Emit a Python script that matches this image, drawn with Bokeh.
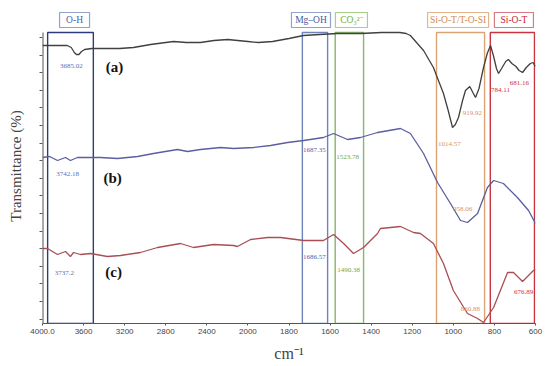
import numpy as np
from bokeh.plotting import figure
from bokeh.models import Range1d, FixedTicker, ColumnDataSource
from bokeh.embed import file_html
from bokeh.resources import INLINE

# ---------------- data (wavenumber cm-1, transmittance in arbitrary units) -------------
wn_a = [4000, 3900, 3760, 3720, 3690, 3670, 3645, 3620, 3590, 3520, 3400, 3250, 3114,
        2948, 2800, 2724, 2600, 2462, 2330, 2198, 2100, 2000, 1950, 1880, 1800, 1730,
        1650, 1564, 1450, 1350, 1260, 1230, 1209, 1175, 1145, 1097, 1048, 1025, 1004,
        990, 975, 955, 941, 920, 905, 892, 875, 853, 835, 819, 805, 790, 780, 765, 745,
        732, 715, 695, 680, 663, 645, 625, 612, 600]
t_a = [278, 278, 278, 276, 271, 269, 269, 272, 274, 275, 275, 275, 276,
       279, 281, 282, 281, 281, 283, 284, 283, 282, 281, 282, 285, 288,
       289, 290, 290, 291, 291, 290, 288, 280, 273, 256, 230, 213, 196,
       199, 206, 223, 233, 237, 231, 226, 235, 256, 270, 278, 268, 255, 250, 255, 262,
       264, 260, 257, 253, 251, 256, 260, 261, 257]

wn_b = [4000, 3930, 3854, 3776, 3728, 3660, 3562, 3436, 3270, 3074, 2920, 2686, 2588,
        2462, 2266, 2140, 1973, 1890, 1807, 1729, 1632, 1583, 1515, 1452, 1369, 1257,
        1209, 1145, 1077, 1014, 965, 931, 882, 834, 804, 756, 688, 634, 600]
t_b = [166, 167, 163, 166, 163, 166, 166, 166, 165, 167, 170, 174, 172,
       174, 176, 175, 176, 178, 181, 183, 186, 190, 184, 186, 191, 195,
       190, 170, 141, 120, 103, 101, 110, 136, 143, 140, 126, 113, 100]

wn_c = [4000, 3952, 3854, 3776, 3728, 3698, 3630, 3532, 3368, 3240, 3046, 2880, 2656,
        2530, 2334, 2140, 2102, 1987, 1905, 1841, 1729, 1632, 1583, 1534, 1486, 1437,
        1369, 1355, 1257, 1194, 1160, 1097, 1048, 1000, 931, 882, 853, 804, 736, 707,
        663, 610, 600]
t_c = [75, 75, 69, 72, 67, 71, 69, 70, 67, 68, 71, 76, 80,
       76, 79, 78, 77, 84, 86, 86, 83, 83, 89, 80, 70, 76,
       90, 95, 97, 91, 90, 80, 60, 33, 10, 5, 1, 16, 51, 51,
       42, 53, 54]

# spectral regions: (label, wn_high, wn_low)
region_names = ["O-H", "Mg\u2013OH", "CO\u2083\u00b2\u207b", "Si-O-T/T-O-SI", "Si-O-T"]
region_hi = [3950, 1735, 1575, 1082, 820]
region_lo = [3505, 1612, 1437, 848, 605]
region_label_wn = [3688, 1693, 1496, 977, 705]
region_label_w = [146, 190, 156, 297, 190]   # label box widths in axis units

# peak annotations
peak_text = ["3685.02", "3742.18", "3737.2", "1687.35", "1523.78", "1014.57", "958.06",
             "919.92", "784.11", "681.16", "1686.57", "1490.38", "860.88", "676.89"]
peak_wn = [3718, 3756, 3786, 1676, 1515, 1019, 955, 907, 770, 678, 1676, 1510, 917, 658]
peak_t = [258, 150, 51, 174, 167, 180, 115, 211, 234, 241, 67, 54, 15, 32]
peak_group = [0, 0, 0, 1, 2, 3, 3, 3, 4, 4, 1, 2, 3, 4]

series_names = ["(a)", "(b)", "(c)"]
series_label_wn = [3300, 3318, 3308]
series_label_t = [257, 146, 52]

tick_wn = [4000, 3600, 3200, 2800, 2400, 2000, 1800, 1600, 1400, 1200, 1000, 800, 600]
tick_text = ["4000.0", "3600", "3200", "2800", "2400", "2000", "1800", "1600", "1400",
             "1200", "1000", "800", "600"]


def to_axis(w):
    """Axis has a 2x compressed scale above 2000 cm-1."""
    w = np.asarray(w, dtype=float)
    return np.where(w > 2000, 2000 + (w - 2000) / 2.0, w)


box_colors = ["#2e3b7a", "#6d84b8", "#86b866", "#dba272", "#c9343e"]
text_colors = ["#4a62aa", "#3f5ca2", "#6fae46", "#d38a4e", "#c8242f"]
border_colors = ["#8ea2cc", "#8ea2cc", "#a6d08a", "#e2b48c", "#d77b82"]
num_colors = ["#5a70b8", "#4a66b0", "#6fa84a", "#d9935a", "#d0303a"]

TOP = 291  # top of region boxes / axis line
p = figure(width=550, height=366, output_backend="svg", toolbar_location=None,
           x_range=Range1d(3000, 600), y_range=Range1d(0, 315),
           min_border_left=42, min_border_right=15, min_border_top=8, min_border_bottom=43)
p.outline_line_color = None
p.grid.visible = False
p.background_fill_color = "white"

serif = "Liberation Serif"

# y axis line (only up to the top of the boxes)
p.segment(x0=[3000], y0=[0], x1=[3000], y1=[TOP], line_color="#555555", line_width=2)

# region boxes
p.quad(left=to_axis(region_hi), right=to_axis(region_lo), bottom=[0] * 5, top=[TOP] * 5,
       fill_color=None, line_color=box_colors, line_width=1.4)

# region label boxes above the regions
p.rect(x=to_axis(region_label_wn), y=[303.5] * 5, width=region_label_w, height=[15] * 5,
       fill_color="white", line_color=border_colors, line_width=1.2)
p.text(x=to_axis(region_label_wn), y=[303.5] * 5, text=region_names,
       text_color=text_colors, text_font_size="9.5px", text_align="center",
       text_baseline="middle", text_font={"value": serif})

# spectra
p.line(to_axis(wn_a), t_a, line_color="#404040", line_width=1.3)
p.line(to_axis(wn_b), t_b, line_color="#5b5ea0", line_width=1.3)
p.line(to_axis(wn_c), t_c, line_color="#a84e55", line_width=1.3)

# peak numbers
src = ColumnDataSource(dict(x=to_axis(peak_wn), y=peak_t, text=peak_text,
                            color=[num_colors[g] for g in peak_group]))
p.text(x="x", y="y", text="text", source=src, text_color="color",
       text_font_size="7px", text_align="center", text_baseline="middle",
       text_font={"value": serif})

# series labels
p.text(x=to_axis(series_label_wn), y=series_label_t, text=series_names,
       text_font_size="15px", text_font_style="bold", text_align="center",
       text_baseline="middle", text_color="#111111", text_font={"value": serif})

# axes
tick_pos = [int(v) for v in to_axis(tick_wn)]
p.xaxis.ticker = FixedTicker(ticks=tick_pos)
p.xaxis.major_label_overrides = {tp: t for tp, t in zip(tick_pos, tick_text)}
p.xaxis.major_label_text_font = "Liberation Sans"
p.xaxis.major_label_text_font_size = "8px"
p.xaxis.major_label_text_color = "#444444"
p.xaxis.major_label_standoff = 3
p.xaxis.major_tick_out = 2
p.xaxis.major_tick_in = 0
p.xaxis.minor_tick_line_color = None
p.xaxis.axis_line_color = "#555555"
p.xaxis.major_tick_line_color = "#555555"
p.xaxis.axis_label = "cm\u207b\u00b9"
p.xaxis.axis_label_text_font = serif
p.xaxis.axis_label_text_font_style = "normal"
p.xaxis.axis_label_text_font_size = "16px"
p.xaxis.axis_label_standoff = 8

p.yaxis.ticker = FixedTicker(ticks=[4.5 + 17.6 * k for k in range(17)])
p.yaxis.major_label_text_color = None
p.yaxis.major_label_text_font_size = "1px"
p.yaxis.major_label_standoff = 0
p.yaxis.major_tick_out = 3
p.yaxis.major_tick_in = 0
p.yaxis.minor_tick_line_color = None
p.yaxis.axis_line_color = None
p.yaxis.major_tick_line_color = "#555555"
p.yaxis.axis_label = "Transmittance (%)"
p.yaxis.axis_label_text_font = serif
p.yaxis.axis_label_text_font_style = "normal"
p.yaxis.axis_label_text_font_size = "15px"
p.yaxis.axis_label_standoff = 16

open("out.html", "w").write(file_html(p, INLINE))
